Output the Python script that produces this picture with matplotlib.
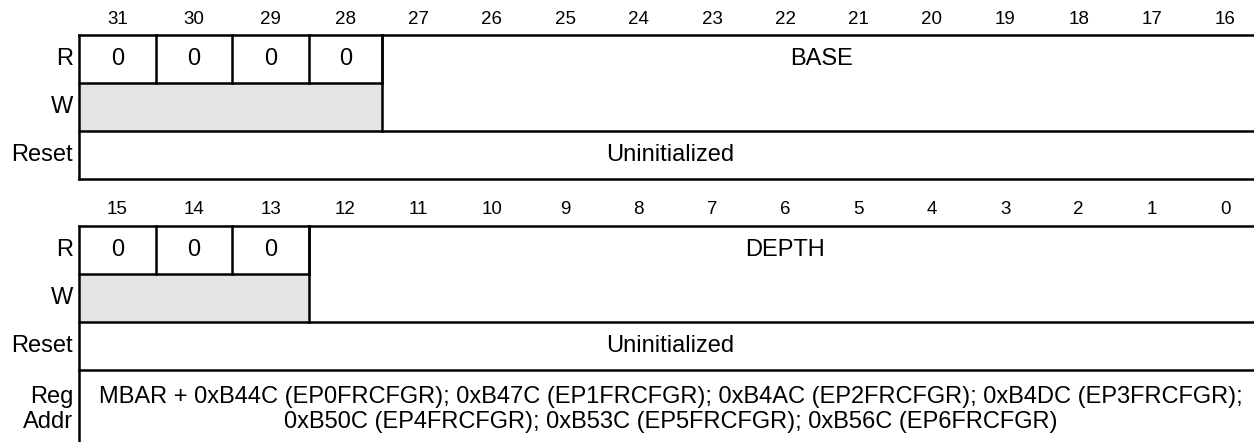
import matplotlib.pyplot as plt
from matplotlib.patches import Rectangle

plt.rcParams["font.family"] = ["Liberation Sans", "DejaVu Sans"]

# register contents
bits_hi = [str(b) for b in range(31, 15, -1)]
bits_lo = [str(b) for b in range(15, -1, -1)]
reserved_hi = ["0", "0", "0", "0"]
reserved_lo = ["0", "0", "0"]
field_hi = "BASE"
field_lo = "DEPTH"
reset_text = "Uninitialized"
row_names = ["R", "W", "Reset"]
addr_names = ["Reg", "Addr"]
addr_lines = [
    "MBAR + 0xB44C (EP0FRCFGR); 0xB47C (EP1FRCFGR); 0xB4AC (EP2FRCFGR); 0xB4DC (EP3FRCFGR);",
    "0xB50C (EP4FRCFGR); 0xB53C (EP5FRCFGR); 0xB56C (EP6FRCFGR)",
]

# layout (pixels)
x0 = 79
col_w = [77, 76, 77, 73] + [73.33] * 12
row_h = 48
lw = 1.8
gray = "#e4e4e4"
fs_cell = 17
fs_head = 13.5

fig = plt.figure(figsize=(12.54, 4.42), dpi=100)
ax = fig.add_axes([0, 0, 1, 1])
ax.set_xlim(0, 1254)
ax.set_ylim(442, 0)
ax.axis("off")

edges = [x0]
for w in col_w:
    edges.append(edges[-1] + w)
x_end = edges[-1]


def hline(y, xa, xb):
    ax.plot([xa, xb], [y, y], color="black", lw=lw, solid_capstyle="projecting")


def vline(x, ya, yb):
    ax.plot([x, x], [ya, yb], color="black", lw=lw, solid_capstyle="projecting")


def draw_register(top, bits, reserved, field):
    # bit numbers above the table
    for i, b in enumerate(bits):
        ax.text((edges[i] + edges[i + 1]) / 2, top - 16, b, ha="center", va="center",
                fontsize=fs_head)
    n = len(reserved)
    split = edges[n]
    # W row gray (reserved, write ignored)
    ax.add_patch(Rectangle((x0, top + row_h), split - x0, row_h, facecolor=gray,
                           edgecolor="none", zorder=0))
    # R row zeros
    for i, v in enumerate(reserved):
        ax.text((edges[i] + edges[i + 1]) / 2, top + row_h / 2, v, ha="center",
                va="center", fontsize=fs_cell)
        vline(edges[i + 1], top, top + row_h)
    ax.text((split + x_end) / 2, top + row_h / 2, field, ha="center", va="center",
            fontsize=fs_cell)
    vline(split, top, top + 2 * row_h)
    # reset row
    ax.text((x0 + x_end) / 2, top + 2.5 * row_h, reset_text, ha="center", va="center",
            fontsize=fs_cell)
    # frame
    hline(top, x0, x_end)
    hline(top + row_h, x0, split)
    hline(top + 2 * row_h, x0, x_end)
    hline(top + 3 * row_h, x0, x_end)
    vline(x0, top, top + 3 * row_h)
    vline(x_end, top, top + 3 * row_h)
    for k, name in enumerate(row_names):
        ax.text(x0 - 6, top + (k + 0.5) * row_h, name, ha="right", va="center",
                fontsize=fs_cell)


draw_register(35, bits_hi, reserved_hi, field_hi)
draw_register(226, bits_lo, reserved_lo, field_lo)

# register address row
addr_top = 226 + 3 * row_h
vline(x0, addr_top, addr_top + 80)
for k, (name, line) in enumerate(zip(addr_names, addr_lines)):
    y = addr_top + 27 + k * 25
    ax.text(x0 - 6, y, name, ha="right", va="center", fontsize=fs_cell)
    ax.text((x0 + x_end) / 2, y, line, ha="center", va="center", fontsize=fs_cell)

fig.savefig("out.png", dpi=100)
